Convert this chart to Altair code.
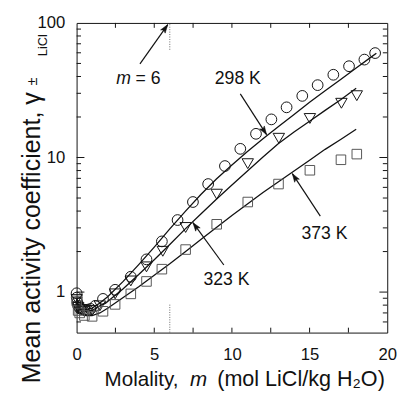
import altair as alt
import pandas as pd

# ---------------- data ----------------
# 298 K (circles)
m_298 = [0.001, 0.01, 0.05, 0.1, 0.2, 0.3, 0.5, 0.7, 0.9, 1.2, 1.7, 2.48, 3.49, 4.5,
         5.49, 6.5, 7.49, 8.47, 9.55, 10.54, 11.55, 12.54, 13.52, 14.53, 15.52,
         16.53, 17.54, 18.53, 19.22]
g_298 = [0.98, 0.91, 0.84, 0.79, 0.76, 0.75, 0.74, 0.74, 0.75, 0.79, 0.89, 1.04, 1.30,
         1.75, 2.38, 3.43, 4.67, 6.35, 8.64, 11.6, 15.0, 19.2, 23.6, 28.7, 34.5,
         41.2, 47.7, 53.4, 59.7]
# 323 K (down triangles)
m_323 = [0.01, 0.1, 0.2, 0.5, 1.0, 1.5, 2.48, 3.49, 4.5, 5.55, 7.02, 9.02, 11.02,
         13.02, 15.02, 17.05, 18.04]
g_323 = [0.88, 0.77, 0.74, 0.72, 0.73, 0.79, 0.97, 1.21, 1.54, 2.01, 3.02, 5.34, 9.0,
         13.9, 19.5, 25.3, 28.8]
# 373 K (squares)
m_373 = [0.01, 0.1, 0.2, 0.5, 1.0, 1.7, 2.48, 3.49, 4.5, 5.49, 7.02, 9.02, 11.02,
         13.0, 15.02, 17.02, 18.04]
g_373 = [0.86, 0.73, 0.70, 0.67, 0.66, 0.72, 0.81, 0.97, 1.20, 1.48, 2.07, 3.19, 4.67,
         6.35, 8.04, 9.62, 10.6]

# model curves
lm_298 = [0.01, 0.1, 0.3, 0.6, 1.0, 1.5, 2, 3, 4, 5, 6, 7, 8, 9, 10, 11, 12, 13, 14,
          15, 16, 17, 18, 19, 19.3]
lg_298 = [0.90, 0.79, 0.75, 0.74, 0.76, 0.83, 0.923, 1.20, 1.60, 2.16, 2.95, 3.98,
          5.31, 6.92, 8.81, 11.1, 13.8, 17.0, 20.9, 25.7, 31.3, 38.0, 46.2, 56.2, 59.6]
lm_323 = [0.01, 0.1, 0.3, 0.6, 1.0, 1.5, 2, 3, 4, 5, 6, 7, 8, 9, 10, 11, 12, 13, 14,
          15, 16, 17, 18]
lg_323 = [0.89, 0.77, 0.73, 0.72, 0.73, 0.79, 0.85, 1.06, 1.35, 1.74, 2.26, 2.95,
          3.80, 4.90, 6.24, 7.94, 10.1, 12.7, 15.5, 18.6, 22.4, 26.9, 32.7]
lm_373 = [0.01, 0.1, 0.3, 0.6, 1.0, 1.5, 2, 3, 4, 5, 6, 7, 8, 9, 10, 11, 12, 13, 14,
          15, 16, 17, 18]
lg_373 = [0.88, 0.74, 0.69, 0.67, 0.67, 0.70, 0.759, 0.912, 1.096, 1.334, 1.622,
          1.995, 2.455, 3.02, 3.715, 4.52, 5.50, 6.61, 7.94, 9.55, 11.5, 13.6, 16.2]

# annotations
lab_text = ["298 K", "323 K", "373 K"]
lab_m = [10.38, 9.65, 15.96]
lab_g = [38.0, 1.235, 2.70]
arr_m0 = [4.08, 10.54, 9.48, 15.69]
arr_g0 = [49.7, 29.7, 1.59, 3.67]
arr_m1 = [5.87, 12.23, 7.49, 13.89]
arr_g1 = [97.2, 14.8, 3.28, 7.59]
arr_ang = [35.3, 147.3, 323.9, 326.8]
m6_m = [6, 6]
m6_g0 = [63.2, 0.5]
m6_g1 = [100, 0.81]

x_ticks = [2.5, 5, 7.5, 10, 12.5, 15, 17.5]
y_major = [1, 10]
y_minor = [0.6, 0.7, 0.8, 0.9, 2, 3, 4, 5, 6, 7, 8, 9, 20, 30, 40, 50, 60, 70, 80, 90]

# ---------------- chart ----------------
FONT = "Liberation Sans"
INK = "#111111"
W, H = 317, 316

xs = alt.Scale(domain=[0, 20], nice=False, zero=False)
ys = alt.Scale(type="log", domain=[0.5, 100], nice=False)
xax = alt.Axis(values=[0, 5, 10, 15, 20], title=None, ticks=False, tickSize=0,
               domain=False, grid=False, labelPadding=22, labelBaseline="middle",
               labelFontSize=17, labelFont=FONT, labelColor=INK, labelFlush=False)
yax = alt.Axis(values=[1, 10, 100], format="d", title=None, ticks=False, tickSize=0,
               domain=False, grid=False, labelPadding=12, labelBaseline="middle",
               labelAlign="right", labelFontSize=17, labelFont=FONT, labelColor=INK,
               labelFlush=False)


def X(f):
    return alt.X(f"{f}:Q", scale=xs, axis=xax)


def Y(f):
    return alt.Y(f"{f}:Q", scale=ys, axis=yax)


lines_df = pd.concat([
    pd.DataFrame({"m": lm_298, "g": lg_298, "T": "298"}),
    pd.DataFrame({"m": lm_323, "g": lg_323, "T": "323"}),
    pd.DataFrame({"m": lm_373, "g": lg_373, "T": "373"}),
])
lines = alt.Chart(lines_df).mark_line(color=INK, strokeWidth=1.3).encode(
    x=X("m"), y=Y("g"), detail="T:N")

circ = alt.Chart(pd.DataFrame({"m": m_298, "g": g_298})).mark_point(
    shape="circle", filled=False, size=120, stroke=INK, strokeWidth=1, opacity=1
).encode(x=X("m"), y=Y("g"))
tri = alt.Chart(pd.DataFrame({"m": m_323, "g": g_323})).mark_point(
    shape="triangle-down", filled=False, size=135, stroke=INK, strokeWidth=1, opacity=1
).encode(x=X("m"), y=Y("g"))
sq = alt.Chart(pd.DataFrame({"m": m_373, "g": g_373})).mark_point(
    shape="square", filled=False, size=95, stroke="#555555", strokeWidth=1, opacity=1
).encode(x=X("m"), y=Y("g"))

xt = pd.DataFrame({"m": x_ticks})
xt_bot = alt.Chart(xt).mark_rule(color=INK, strokeWidth=1).encode(
    x=X("m"), y=alt.value(H), y2=alt.value(H - 5))
xt_top = alt.Chart(xt).mark_rule(color=INK, strokeWidth=1).encode(
    x=X("m"), y=alt.value(0), y2=alt.value(5))
ymj = pd.DataFrame({"g": y_major})
ymn = pd.DataFrame({"g": y_minor})
yt1 = alt.Chart(ymj).mark_rule(color=INK).encode(y=Y("g"), x=alt.value(0), x2=alt.value(8))
yt2 = alt.Chart(ymj).mark_rule(color=INK).encode(y=Y("g"), x=alt.value(W), x2=alt.value(W - 8))
yt3 = alt.Chart(ymn).mark_rule(color=INK).encode(y=Y("g"), x=alt.value(0), x2=alt.value(4.5))
yt4 = alt.Chart(ymn).mark_rule(color=INK).encode(y=Y("g"), x=alt.value(W), x2=alt.value(W - 4.5))

dots = alt.Chart(pd.DataFrame({"m": m6_m, "g": m6_g0, "g2": m6_g1})).mark_rule(
    color="#666666", strokeWidth=1, strokeDash=[1, 1.5]
).encode(x=X("m"), y=Y("g"), y2="g2:Q")

arr_df = pd.DataFrame({"m": arr_m0, "g": arr_g0, "m2": arr_m1, "g2": arr_g1,
                       "ang": arr_ang})
shafts = alt.Chart(arr_df).mark_rule(color=INK, strokeWidth=1.2).encode(
    x=X("m"), y=Y("g"), x2="m2:Q", y2="g2:Q")
heads = alt.Chart(arr_df).mark_point(
    shape="M0,0 L-0.33,1 L0,0.78 L0.33,1 Z", filled=True, fill=INK, stroke=INK,
    strokeWidth=0.5, size=300, opacity=1
).encode(x=X("m2"), y=Y("g2"), angle=alt.Angle("ang:Q", scale=None))

labels = alt.Chart(pd.DataFrame({"m": lab_m, "g": lab_g, "t": lab_text})).mark_text(
    font=FONT, fontSize=18, color=INK, baseline="middle", align="center"
).encode(x=X("m"), y=Y("g"), text="t:N")

m6a = alt.Chart(pd.DataFrame({"m": [3.50], "g": [38.0], "t": ["m"]})).mark_text(
    font=FONT, fontSize=18, fontStyle="italic", color=INK, baseline="middle", align="right"
).encode(x=X("m"), y=Y("g"), text="t:N")
m6b = alt.Chart(pd.DataFrame({"m": [3.79], "g": [38.0], "t": ["= 6"]})).mark_text(
    font=FONT, fontSize=18, color=INK, baseline="middle", align="left"
).encode(x=X("m"), y=Y("g"), text="t:N")

# axis titles (built from text pieces to allow italics / sub- & superscripts)
OX, OY = 78, 19.3  # page position of plot origin
xt1 = alt.Chart(pd.DataFrame({"t": ["Molality,"]})).mark_text(
    font=FONT, fontSize=21, color=INK, align="right", baseline="alphabetic"
).encode(text="t:N", x=alt.value(182 - OX), y=alt.value(389.5 - OY))
xt2 = alt.Chart(pd.DataFrame({"t": ["m"]})).mark_text(
    font=FONT, fontSize=21, fontStyle="italic", color=INK, align="center",
    baseline="alphabetic"
).encode(text="t:N", x=alt.value(202.5 - OX), y=alt.value(389.5 - OY))
xt3 = alt.Chart(pd.DataFrame({"t": ["(mol LiCl/kg H\u2082O)"]})).mark_text(
    font=FONT, fontSize=22, color=INK, align="left", baseline="alphabetic"
).encode(text="t:N", x=alt.value(221.5 - OX), y=alt.value(389.5 - OY))

yt_main = alt.Chart(pd.DataFrame({"t": ["Mean activity coefficient, \u03b3"]})).mark_text(
    font=FONT, fontSize=25.5, color=INK, align="center", baseline="alphabetic", angle=270
).encode(text="t:N", x=alt.value(41 - OX), y=alt.value(238.5 - OY))
yt_pm = alt.Chart(pd.DataFrame({"t": ["\u00b1"]})).mark_text(
    font=FONT, fontSize=15, color=INK, align="center", baseline="middle", angle=270
).encode(text="t:N", x=alt.value(33 - OX), y=alt.value(79 - OY))
yt_sub = alt.Chart(pd.DataFrame({"t": ["LiCl"]})).mark_text(
    font=FONT, fontSize=13, color=INK, align="center", baseline="middle", angle=270
).encode(text="t:N", x=alt.value(44 - OX), y=alt.value(42 - OY))

chart = alt.layer(
    lines, circ, tri, sq, xt_bot, xt_top, yt1, yt2, yt3, yt4, dots, shafts, heads,
    labels, m6a, m6b, xt1, xt2, xt3, yt_main, yt_pm, yt_sub
).properties(
    width=W, height=H,
    autosize=alt.AutoSizeParams(type="none"),
    padding={"left": OX - 8, "top": OY - 8, "right": 12, "bottom": 58},
).configure_view(stroke=INK, strokeWidth=1)

chart.save("out.html", embed_options={"renderer": "svg", "actions": False})
